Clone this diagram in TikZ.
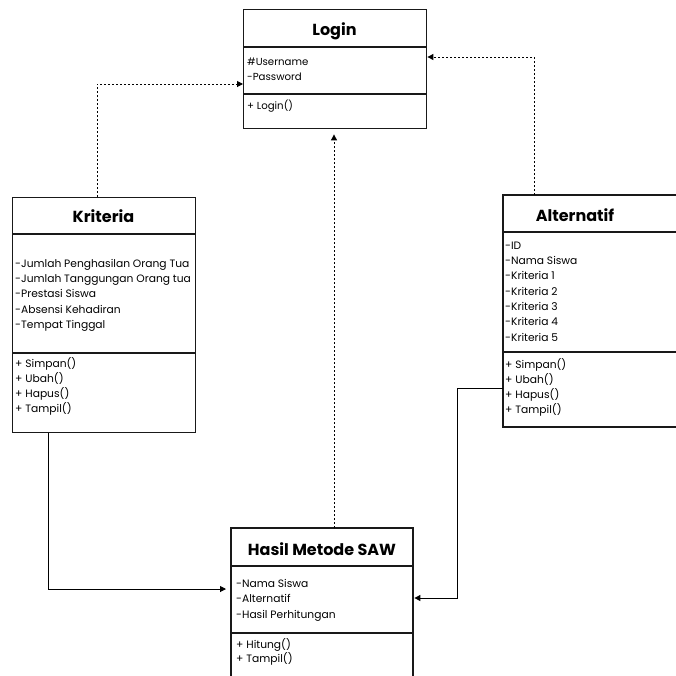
\documentclass[tikz,border=0pt]{standalone}
\usepackage{fontspec}
\setmainfont{Poppins}
\usetikzlibrary{arrows.meta}
\begin{document}
\begin{tikzpicture}[x=1pt,y=-1pt,
  box/.style={draw=black!90, line width=1.4pt, inner sep=0pt, anchor=north west},
  frame/.style={draw=black!90, line width=1.4pt},
  ghost/.style={draw=none, inner sep=0pt, anchor=north west},
  ttl/.style={font=\fontsize{16}{19}\selectfont\bfseries, anchor=base, inner sep=0pt},
  txt/.style={font=\fontsize{10.7}{13}\selectfont, anchor=base west, inner sep=0pt},
  ltxt/.style={font=\fontsize{10.2}{13}\selectfont, anchor=base west, inner sep=0pt},
  dep/.style={line width=1pt, dash pattern=on 1.6pt off 2.4pt, -{Triangle[length=6pt,width=6pt]}},
  assoc/.style={line width=1pt, -{Triangle[length=6pt,width=6pt]}}]
\useasboundingbox (0,0) rectangle (676,675);
\fill[white] (0,0) rectangle (676,675);

% Login
\node[box, minimum width=183pt, minimum height=119pt] (login) at (243,9) {};
\draw[frame] (243,47) -- (426,47) (243,94) -- (426,94);
\node[ttl] (loginT) at (334.5,35.5) {Login};
\node[ltxt] (loginA1) at (247,65.5) {\#Username};
\node[ltxt] (loginA2) at (247,80.5) {-Password};
\node[ltxt] (loginM1) at (247,109.5) {+ Login()};

% Kriteria
\node[box, minimum width=183pt, minimum height=235pt] (krit) at (12,197) {};
\draw[frame] (12,234) -- (195,234) (12,353) -- (195,353);
\node[ttl] (kritT) at (103.5,222.5) {Kriteria};
\foreach \t [count=\i] in {-Jumlah Penghasilan Orang Tua,-Jumlah Tanggungan Orang tua,-Prestasi Siswa,-Absensi Kehadiran,-Tempat Tinggal}
  \node[txt] (kritA\i) at (15,267+15.4*\i-15.4) {\t};
\foreach \t [count=\i] in {+ Simpan(),+ Ubah(),+ Hapus(),+ Tampil()}
  \node[txt] (kritM\i) at (15,367+15.3*\i-15.3) {\t};

% Alternatif
\node[ghost, minimum width=173pt, minimum height=232pt] (alt) at (503,195) {};
\draw[frame] (676,195) -- (503,195) -- (503,427) -- (676,427);
\draw[frame] (503,232) -- (676,232) (503,352) -- (676,352);
\node[ttl] (altT) at (575,221) {Alternatif};
\foreach \t [count=\i] in {-ID,-Nama Siswa,-Kriteria 1,-Kriteria 2,-Kriteria 3,-Kriteria 4,-Kriteria 5}
  \node[txt] (altA\i) at (505,249+15.35*\i-15.35) {\t};
\foreach \t [count=\i] in {+ Simpan(),+ Ubah(),+ Hapus(),+ Tampil()}
  \node[txt] (altM\i) at (505,368+15.3*\i-15.3) {\t};

% Hasil Metode SAW
\node[ghost, minimum width=182pt, minimum height=147pt] (hasil) at (231,528) {};
\draw[frame] (231,676) -- (231,528) -- (413,528) -- (413,676);
\draw[frame] (231,566) -- (413,566) (231,633) -- (413,633);
\node[ttl] (hasilT) at (322,555) {Hasil Metode SAW};
\foreach \t [count=\i] in {-Nama Siswa,-Alternatif,-Hasil Perhitungan}
  \node[txt] (hasilA\i) at (236,587+15.5*\i-15.5) {\t};
\foreach \t [count=\i] in {+ Hitung(),+ Tampil()}
  \node[txt] (hasilM\i) at (236,648+14.5*\i-14.5) {\t};

% connectors
\coordinate (c1) at (97,84);
\draw[dep] (c1 |- krit.north) -- (c1) -- (c1 -| login.west);
\coordinate (c2) at (534,57);
\draw[dep] (c2 |- alt.north) -- (c2) -- (c2 -| login.east);
\coordinate (c3) at (334,528);
\draw[dep, shorten >=5pt] (c3) -- (c3 |- login.south);
\coordinate (c4) at (48,589);
\draw[assoc, shorten >=5pt] (c4 |- krit.south) -- (c4) -- (c4 -| hasil.west);
\coordinate (c5) at (457,388);
\coordinate (c6) at (457,598);
\draw[assoc, shorten >=1pt] (c5 -| alt.west) -- (c5) -- (c6) -- (c6 -| hasil.east);
\end{tikzpicture}
\end{document}
